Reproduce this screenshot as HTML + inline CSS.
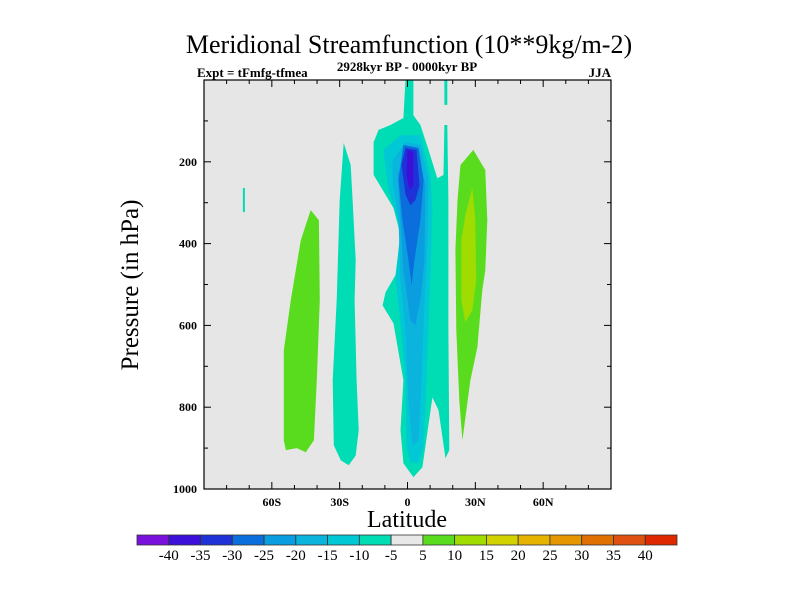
<!DOCTYPE html>
<html><head><meta charset="utf-8"><style>
body{margin:0;background:#fff;}
svg{display:block;font-family:"Liberation Serif",serif;}
</style></head><body>
<svg id="chart" width="800" height="600" viewBox="0 0 800 600">
<rect x="0" y="0" width="800" height="600" fill="#fff"/>
<text x="409" y="53" font-size="26" text-anchor="middle">Meridional Streamfunction (10**9kg/m-2)</text>
<text x="197" y="77" font-size="13" font-weight="bold">Expt = tFmfg-tfmea</text>
<text x="407" y="71" font-size="13" font-weight="bold" text-anchor="middle">2928kyr BP - 0000kyr BP</text>
<text x="611" y="77" font-size="13" font-weight="bold" text-anchor="end">JJA</text>
<text x="407" y="527" font-size="24" text-anchor="middle">Latitude</text>
<text transform="translate(138,285) rotate(-90)" font-size="25" text-anchor="middle">Pressure (in hPa)</text>
<defs><clipPath id="pc"><rect x="204" y="80" width="407" height="409"/></clipPath></defs>
<rect x="204" y="80" width="407" height="409" fill="#e6e6e6"/>
<g id="contours" clip-path="url(#pc)"></g>
<g id="axes"></g>
<g id="colorbar"></g>
</svg>
<script>
// contour levels and region polygons (latitude, pressure hPa)
const levels = [-5, -10, -15, -20, -25, -30, -35, 5, 10];
const regionLevels = [-5, -5, -5, -5, 5, -10, -15, -20, -25, -30, -35, 5, 10];
const regionNames = ['central-negative-cell','upper-stem-cell','small-cell-70s','cell-30s','cell-50s','central-core-10','central-core-15','central-core-20','central-core-25','central-core-30','central-core-35','cell-30n','cell-30n-core'];
const regionShapes = [
 [[-0.9,0],[2.6,0],[2.6,86],[5.7,110],[9.3,171],[13.2,240],[15.9,232],[16.3,110],[17.6,110],[18.1,294],[18.1,612],[18.5,905],[16.8,925],[13.7,807],[11.0,776],[6.6,947],[2.6,971],[-1.8,937],[-3.1,856],[-1.8,734],[-6.2,595],[-11.0,551],[-9.7,519],[-5.3,477],[-3.1,379],[-6.2,313],[-15.0,232],[-15.0,152],[-12.8,122],[-7.5,110],[-1.8,93]],
 [[16.3,0],[17.6,0],[17.6,61],[16.3,61]],
 [[-72.8,264],[-71.9,264],[-71.9,323],[-72.8,323]],
 [[-28.2,154],[-25.1,208],[-24.3,294],[-22.9,440],[-23.4,538],[-22.5,734],[-21.6,856],[-22.9,918],[-26.0,942],[-29.5,930],[-32.6,893],[-33.1,734],[-31.3,538],[-30.0,294]],
 [[-42.8,318],[-39.2,343],[-38.8,538],[-40.1,734],[-41.4,881],[-45.0,910],[-49.0,900],[-53.8,905],[-54.7,881],[-54.7,661],[-51.6,538],[-47.2,392]],
 [[-3.1,135],[5.7,135],[10.1,232],[11.0,318],[10.1,489],[8.4,734],[7.1,898],[4.9,937],[1.3,935],[-0.4,898],[-0.9,734],[-3.1,595],[-5.3,489],[-3.1,367],[-8.4,269],[-10.6,171]],
 [[-0.9,152],[5.7,159],[9.3,245],[8.8,392],[7.5,538],[6.2,734],[4.9,881],[2.2,893],[0.4,783],[-0.9,612],[-3.1,489],[-4.0,343],[-6.6,245],[-6.6,196]],
 [[-0.9,176],[4.9,184],[7.9,257],[7.5,440],[5.7,538],[3.5,600],[1.3,587],[-1.8,465],[-3.1,343],[-4.4,232]],
 [[-1.8,159],[4.9,166],[7.1,245],[5.7,343],[3.1,440],[1.8,502],[0.4,440],[-2.2,343],[-4.0,245]],
 [[-0.9,166],[4.0,171],[5.3,257],[3.5,294],[1.3,306],[-0.9,281],[-2.6,208]],
 [[0,171],[2.6,176],[2.6,257],[0.9,269],[-0.4,232]],
 [[29.1,171],[34.4,220],[35.3,343],[34.4,465],[33.1,514],[30.9,653],[27.8,734],[24.3,881],[22.9,783],[21.6,612],[21.2,416],[22.1,294],[23.4,208]],
 [[28.7,264],[30.0,343],[30.4,489],[28.7,563],[25.6,592],[23.8,538],[23.8,392],[25.6,330]]
];
const xTickValues = [-60,-30,0,30,60];
const xTickLabels = ['60S','30S','0','30N','60N'];
const yTickValues = [200,400,600,800,1000];
const yTickLabels = ['200','400','600','800','1000'];
const cbLabels = ['-40','-35','-30','-25','-20','-15','-10','-5','5','10','15','20','25','30','35','40'];
const cbColors = ['#7a10dc','#3c10d8','#1e32d8','#0a6edc','#0a9ee0','#0ab4dc','#00c8d4','#00dcb4','#e8e8e8','#5adc1e','#a0dc00','#d2d200','#e6b400','#e69600','#e07000','#e05010','#e02800'];

const NS='http://www.w3.org/2000/svg';
const X0=204,X1=611,Y0=80,Y1=489;
const xs = lat => X0 + (lat+90)/180*(X1-X0);
const ys = p => Y0 + p/1000*(Y1-Y0);
function levelColor(v){
  if(v<0){ const i=Math.round((-v-5)/5); return cbColors[7-i]; }
  const i=Math.round((v-5)/5); return cbColors[9+i];
}
const cg=document.getElementById('contours');
regionShapes.forEach((shape,i)=>{
  const poly=document.createElementNS(NS,'polygon');
  poly.setAttribute('points',shape.map(([la,p])=>xs(la).toFixed(1)+','+ys(p).toFixed(1)).join(' '));
  poly.setAttribute('fill',levelColor(regionLevels[i]));
  
  
  cg.appendChild(poly);
});
const ag=document.getElementById('axes');
function line(x1,y1,x2,y2,w){const l=document.createElementNS(NS,'line');l.setAttribute('x1',x1);l.setAttribute('y1',y1);l.setAttribute('x2',x2);l.setAttribute('y2',y2);l.setAttribute('stroke','#000');l.setAttribute('stroke-width',w||1);ag.appendChild(l);return l;}
const frame=document.createElementNS(NS,'rect');
frame.setAttribute('x',X0);frame.setAttribute('y',Y0);frame.setAttribute('width',X1-X0);frame.setAttribute('height',Y1-Y0);
frame.setAttribute('fill','none');frame.setAttribute('stroke','#000');frame.setAttribute('stroke-width','1.2');


ag.appendChild(frame);
for(let la=-80;la<=80;la+=10){
  const x=xs(la), L=(la%30===0)?7:4;
  line(x,Y1,x,Y1-L);line(x,Y0,x,Y0+L);
}
for(let p=100;p<1000;p+=100){
  const y=ys(p), L=(p%200===0)?7:4;
  line(X0,y,X0+L,y);line(X1,y,X1-L,y);
}
xTickValues.forEach((v,i)=>{
  const t=document.createElementNS(NS,'text');
  t.setAttribute('x',xs(v));t.setAttribute('y',Y1+17);t.setAttribute('font-size','12');t.setAttribute('font-weight','bold');t.setAttribute('text-anchor','middle');
  t.textContent=xTickLabels[i];
  
  
  ag.appendChild(t);
});
yTickValues.forEach((v,i)=>{
  const t=document.createElementNS(NS,'text');
  t.setAttribute('x',X0-7);t.setAttribute('y',ys(v)+4);t.setAttribute('font-size','12');t.setAttribute('font-weight','bold');t.setAttribute('text-anchor','end');
  t.textContent=yTickLabels[i];
  
  
  ag.appendChild(t);
});
const cb=document.getElementById('colorbar');
const CBX=137,CBY=535,CBW=540/17,CBH=10;
cbColors.forEach((c,i)=>{
  const r=document.createElementNS(NS,'rect');
  r.setAttribute('x',CBX+i*CBW);r.setAttribute('y',CBY);r.setAttribute('width',CBW);r.setAttribute('height',CBH);
  r.setAttribute('fill',c);r.setAttribute('stroke','#333');r.setAttribute('stroke-width','0.8');
  
  
  cb.appendChild(r);
});
cbLabels.forEach((s,i)=>{
  const t=document.createElementNS(NS,'text');
  t.setAttribute('x',CBX+(i+1)*CBW);t.setAttribute('y',CBY+25);t.setAttribute('font-size','15');t.setAttribute('text-anchor','middle');
  t.textContent=s;
  
  
  cb.appendChild(t);
});
</script>
</body></html>
